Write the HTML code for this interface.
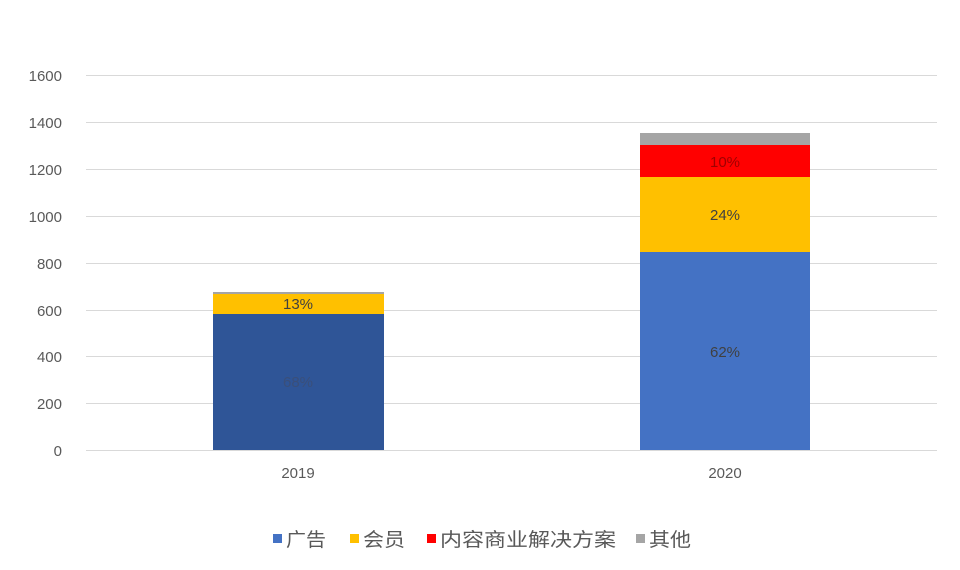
<!DOCTYPE html><html><head><meta charset="utf-8"><style>body{margin:0;background:#fff}</style></head><body>
<svg width="960" height="565" xmlns="http://www.w3.org/2000/svg" font-family="Liberation Sans, Noto Sans CJK SC, sans-serif">
<g stroke="#d9d9d9" stroke-width="1">
<line x1="86" x2="937" y1="75.5" y2="75.5"/><line x1="86" x2="937" y1="122.5" y2="122.5"/><line x1="86" x2="937" y1="169.5" y2="169.5"/><line x1="86" x2="937" y1="216.5" y2="216.5"/><line x1="86" x2="937" y1="263.5" y2="263.5"/><line x1="86" x2="937" y1="310.5" y2="310.5"/><line x1="86" x2="937" y1="356.5" y2="356.5"/><line x1="86" x2="937" y1="403.5" y2="403.5"/><line x1="86" x2="937" y1="450.5" y2="450.5"/>
</g>
<g font-size="15" fill="#595959" text-anchor="end">
<text x="62" y="81">1600</text><text x="62" y="128">1400</text><text x="62" y="175">1200</text><text x="62" y="222">1000</text><text x="62" y="269">800</text><text x="62" y="316">600</text><text x="62" y="362">400</text><text x="62" y="409">200</text><text x="62" y="456">0</text>
</g>
<rect x="213" y="292" width="171" height="2" fill="#a5a5a5"/>
<rect x="213" y="294" width="171" height="20" fill="#ffc000"/>
<rect x="213" y="314" width="171" height="136" fill="#2f5597"/>
<rect x="640" y="133" width="170" height="12" fill="#a5a5a5"/>
<rect x="640" y="145" width="170" height="32" fill="#ff0000"/>
<rect x="640" y="177" width="170" height="75" fill="#ffc000"/>
<rect x="640" y="252" width="170" height="198" fill="#4472c4"/>
<g font-size="15" fill="#404040" text-anchor="middle">
<text x="298" y="309">13%</text><text x="298" y="387" fill="#3a4f7a">68%</text>
<text x="725" y="167" fill="#a00000">10%</text><text x="725" y="220">24%</text><text x="725" y="357">62%</text>
</g>
<g font-size="15" fill="#595959" text-anchor="middle"><text x="298" y="478">2019</text><text x="725" y="478">2020</text></g>
<g font-size="19" fill="#595959">
<rect x="273" y="534" width="9" height="9" fill="#4472c4"/><text x="286" y="546" textLength="40" lengthAdjust="spacingAndGlyphs">广告</text>
<rect x="350" y="534" width="9" height="9" fill="#ffc000"/><text x="363" y="546" textLength="42" lengthAdjust="spacingAndGlyphs">会员</text>
<rect x="427" y="534" width="9" height="9" fill="#ff0000"/><text x="440" y="546" textLength="176" lengthAdjust="spacingAndGlyphs">内容商业解决方案</text>
<rect x="636" y="534" width="9" height="9" fill="#a5a5a5"/><text x="649" y="546" textLength="42" lengthAdjust="spacingAndGlyphs">其他</text>
</g>
</svg></body></html>
